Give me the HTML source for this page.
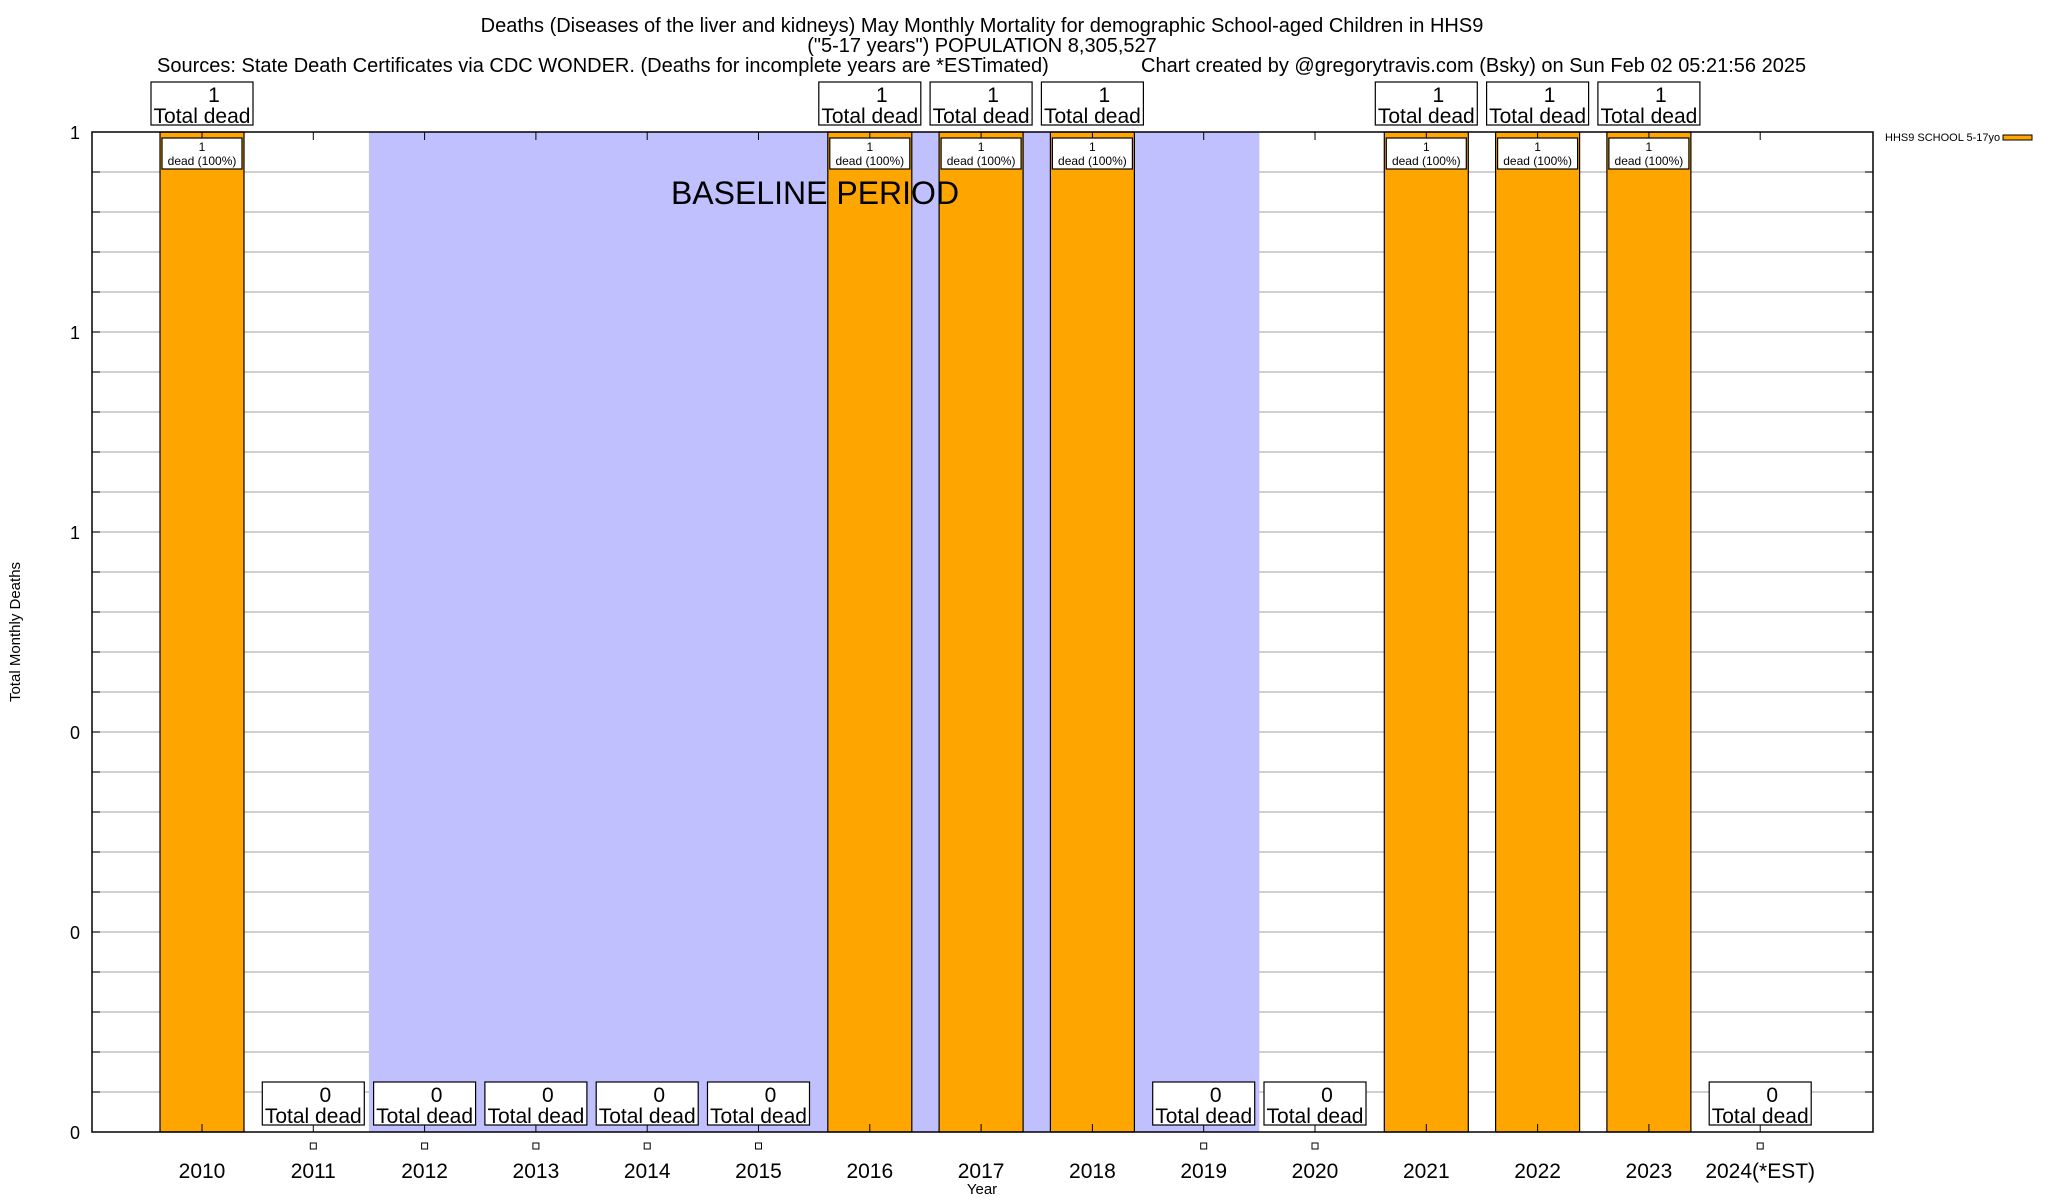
<!DOCTYPE html>
<html><head><meta charset="utf-8"><style>
html,body{margin:0;padding:0;background:#fff;}
svg{display:block;font-family:"Liberation Sans",sans-serif;}
</style></head><body>
<svg id="chart" width="2048" height="1200" viewBox="0 0 2048 1200" xmlns="http://www.w3.org/2000/svg">
<rect x="0" y="0" width="2048" height="1200" fill="#fff"/>
<text x="982" y="32" font-size="20" text-anchor="middle">Deaths (Diseases of the liver and kidneys) May Monthly Mortality for demographic School-aged Children in HHS9</text>
<text x="982" y="52" font-size="20" text-anchor="middle">("5-17 years") POPULATION 8,305,527</text>
<text x="157" y="72" font-size="20">Sources: State Death Certificates via CDC WONDER. (Deaths for incomplete years are *ESTimated)</text>
<text x="1141" y="72" font-size="20">Chart created by @gregorytravis.com (Bsky) on Sun Feb 02 05:21:56 2025</text>
<g id="grid"></g>
<g id="shade"></g>
<g id="bars"></g>
<rect x="92" y="132" width="1781" height="1000" fill="none" stroke="#000" stroke-width="1.5"/>
<g id="ticks"></g>
<g id="labels"></g>
<text x="815" y="204" font-size="32" text-anchor="middle">BASELINE PERIOD</text>
<text transform="translate(20,632) rotate(-90)" font-size="15" text-anchor="middle">Total Monthly Deaths</text>
<text x="982" y="1194" font-size="15" text-anchor="middle">Year</text>
<g>
<text x="1885" y="141" font-size="11">HHS9 SCHOOL 5-17yo</text>
<rect x="2003" y="135" width="29" height="5" fill="#ffa500" stroke="#000" stroke-width="1"/>
</g>
</svg>
<script>
const categories = ["2010","2011","2012","2013","2014","2015","2016","2017","2018","2019","2020","2021","2022","2023","2024(*EST)"];
const deaths = [1,0,0,0,0,0,1,1,1,0,0,1,1,1,0];
const yTickValues = [0,0.2,0.4,0.6,0.8,1];
const yTickLabels = ["0","0","0","1","1","1"];
const baselineStart = 1.5, baselineEnd = 9.5;

const NS = "http://www.w3.org/2000/svg";
const L=92, R=1873, T=132, B=1132;
const x0 = 202, step = 111.3;
function xScale(i){ return x0 + i*step; }
function yScale(v){ return B - (v-0)/(1-0)*(B-T); }
function mk(tag, attrs, parent, text){
  const e=document.createElementNS(NS,tag);
  for(const k in attrs) e.setAttribute(k,attrs[k]);
  if(text!==undefined) e.textContent=text;
  parent.appendChild(e); return e;
}
const grid=document.getElementById('grid'), shade=document.getElementById('shade'),
      bars=document.getElementById('bars'), ticks=document.getElementById('ticks'), labels=document.getElementById('labels');
// minor grid: 5 per major interval
for(let k=1;k<25;k++){
  const v=k/25, y=yScale(v);
  const g=mk('line',{x1:L,x2:R,y1:y,y2:y,stroke:'#c0c0c0','stroke-width':1.5},grid);
  
  
}
// baseline shade
const sx1=xScale(baselineStart), sx2=xScale(baselineEnd);
const sh=mk('rect',{x:sx1,y:T,width:sx2-sx1,height:B-T,fill:'#c0c0ff'},shade);


// y ticks
yTickValues.forEach((v,i)=>{
  const y=yScale(v);
  const t=mk('text',{x:L-12,y:y+7,'font-size':18,'text-anchor':'end'},labels,yTickLabels[i]);
  
  
});
for(let k=0;k<=25;k++){
  const y=yScale(k/25);
  mk('line',{x1:L,x2:L+8,y1:y,y2:y,stroke:'#000','stroke-width':1},ticks);
  mk('line',{x1:R-8,x2:R,y1:y,y2:y,stroke:'#000','stroke-width':1},ticks);
}
const bw=84;
categories.forEach((c,i)=>{
  const cx=xScale(i), v=deaths[i];
  mk('line',{x1:cx,x2:cx,y1:T,y2:T+8,stroke:'#000','stroke-width':1},ticks);
  mk('line',{x1:cx,x2:cx,y1:B,y2:B-8,stroke:'#000','stroke-width':1},ticks);
  const xl=mk('text',{x:cx,y:1178,'font-size':21,'text-anchor':'middle'},labels,c);
  
  
  if(v>0){
    const yt=yScale(v);
    const b=mk('rect',{x:cx-bw/2,y:yt,width:bw,height:B-yt,fill:'#ffa500',stroke:'#000','stroke-width':1.2},bars);
    
    
    const ib=mk('rect',{x:cx-bw/2+2,y:yt+6,width:bw-4,height:31,fill:'#fff',stroke:'#000','stroke-width':1.2},labels);
    
    
    mk('text',{x:cx,y:yt+19,'font-size':12,'text-anchor':'middle'},labels,String(v));
    mk('text',{x:cx,y:yt+33,'font-size':12,'text-anchor':'middle'},labels,'dead (100%)');
    const tb=mk('rect',{x:cx-51,y:yt-50,width:102,height:43,fill:'#fff',stroke:'#000','stroke-width':1.2},labels);
    
    
    mk('text',{x:cx+12,y:yt-30,'font-size':21,'text-anchor':'middle'},labels,String(v));
    mk('text',{x:cx,y:yt-9,'font-size':21,'text-anchor':'middle'},labels,'Total dead');
  } else {
    const m=mk('rect',{x:cx-3,y:1143,width:6,height:6,fill:'#fff',stroke:'#000','stroke-width':1},labels);
    
    
    const tb=mk('rect',{x:cx-51,y:1082,width:102,height:43,fill:'#fff',stroke:'#000','stroke-width':1.2},labels);
    
    
    mk('text',{x:cx+12,y:1102,'font-size':21,'text-anchor':'middle'},labels,String(v));
    mk('text',{x:cx,y:1123,'font-size':21,'text-anchor':'middle'},labels,'Total dead');
  }
});
</script>
</body></html>
